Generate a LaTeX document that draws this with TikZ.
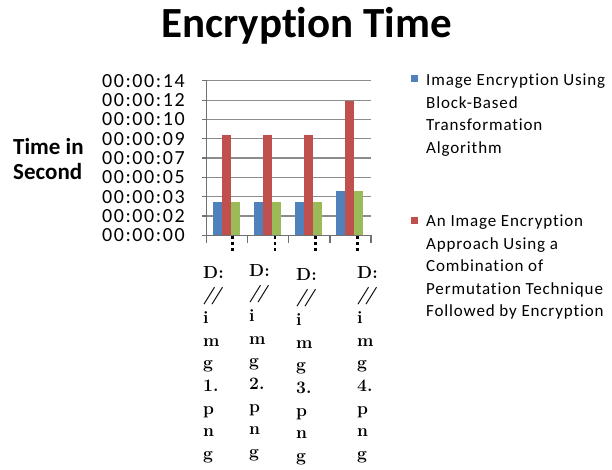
\documentclass[tikz,border=0pt]{standalone}
\usepackage{fontspec}
\newfontfamily\calfont[Ligatures=NoCommon]{Carlito}
\newfontfamily\legfont[Ligatures=NoCommon,LetterSpace=5]{Carlito}
\newfontfamily\tickfont[LetterSpace=8]{Carlito}
\definecolor{serA}{HTML}{4F81BD}
\definecolor{serB}{HTML}{C0504D}
\definecolor{serC}{HTML}{9BBB59}
\definecolor{gridc}{HTML}{8C8C8C}
\tikzset{
  gridline/.style={draw=gridc, line width=1.2pt},
  axisline/.style={draw=gridc!80!black, line width=1.2pt},
  ticklab/.style={anchor=east, inner sep=0pt, text height=13pt, text depth=0pt, font=\tickfont\fontsize{20}{20}\selectfont},
  catlab/.style={anchor=base west, inner sep=0pt, font=\bfseries\fontsize{17.5}{20}\selectfont},
  leglab/.style={anchor=base west, inner sep=0pt, font=\legfont\fontsize{17}{20}\selectfont},
  barA/.style={fill=serA},
  barB/.style={fill=serB},
  barC/.style={fill=serC},
}
\begin{document}
\begin{tikzpicture}[x=1pt,y=-1pt]
\useasboundingbox (0,0) rectangle (612,470);
% title
\node[anchor=base, inner sep=0pt, font=\calfont\bfseries\fontsize{43}{44}\selectfont] (title) at (306.5,37.3) {Encryption Time};
% y axis title
\node[anchor=base west, inner sep=0pt, font=\calfont\bfseries\fontsize{23}{24}\selectfont] (ylab1) at (13,155) {Time in};
\node[anchor=base west, inner sep=0pt, font=\calfont\bfseries\fontsize{23}{24}\selectfont] (ylab2) at (13,179.3) {Second};
% gridlines and tick labels
\foreach \i/\t in {0/00,1/02,2/03,3/05,4/07,5/09,6/10,7/12,8/14}{
  \pgfmathsetmacro{\yy}{235.3-\i*19.3}
  \draw[gridline] (206.7,\yy) -- (371,\yy);
  \draw[axisline] (202,\yy) -- (206.7,\yy);
  \node[ticklab] (tl\i) at (185,\yy) {00:00:\t};
}
% axes
\draw[axisline] (206.7,81) -- (206.7,243);
\draw[axisline] (206.7,235.3) -- (371,235.3);
\foreach \k in {1,2,3,4}{
  \draw[axisline] ({206.7+\k*41.08},235.3) -- ({206.7+\k*41.08},243);
}
% bars
\foreach \g/\ha/\hb in {0/202/134.7,1/202/134.7,2/202/134.7,3/190.7/100.7}{
  \pgfmathsetmacro{\xl}{206.7+\g*41.08+6.5}
  \fill[barA] (\xl,235.3) rectangle ({\xl+9},\ha);
  \fill[barB] ({\xl+9},235.3) rectangle ({\xl+18},\hb);
  \fill[barC] ({\xl+18},235.3) rectangle ({\xl+27},\ha);
}
% dots under categories
\foreach \x in {232.7,275,315.3,357.7}{
  \foreach \y in {237.7,243.7,249.7}{
    \fill (\x-1.3,\y-1.3) rectangle (\x+1.3,\y+1.3);
  }
}
% category labels
\foreach \c/\x/\dy in {1/203/0,2/249/-2,3/296/2,4/357/0}{
  \foreach \j/\s in {0/{D:},1/{\textit{/\kern-2.5pt/}},2/{i},3/{m},4/{g},5/{\c.},6/{p},7/{n},8/{g}}{
    \node[catlab] (cat\c-\j) at (\x,{278+\dy+\j*22.7}) {\s};
  }
}
% legend
\fill[serA] (411,75) rectangle (418,82);
\fill[serB] (411,216.5) rectangle (418,223.5);
\foreach \j/\s in {0/{Image Encryption Using},1/{Block-Based},2/{Transformation},3/{Algorithm}}{
  \node[leglab] (legA\j) at (426,{86+\j*22.5}) {\s};
}
\foreach \j/\s in {0/{An Image Encryption},1/{Approach Using a},2/{Combination of},3/{Permutation Technique},4/{Followed by Encryption}}{
  \node[leglab] (legB\j) at (426,{226.7+\j*22.5}) {\s};
}
\end{tikzpicture}
\end{document}
